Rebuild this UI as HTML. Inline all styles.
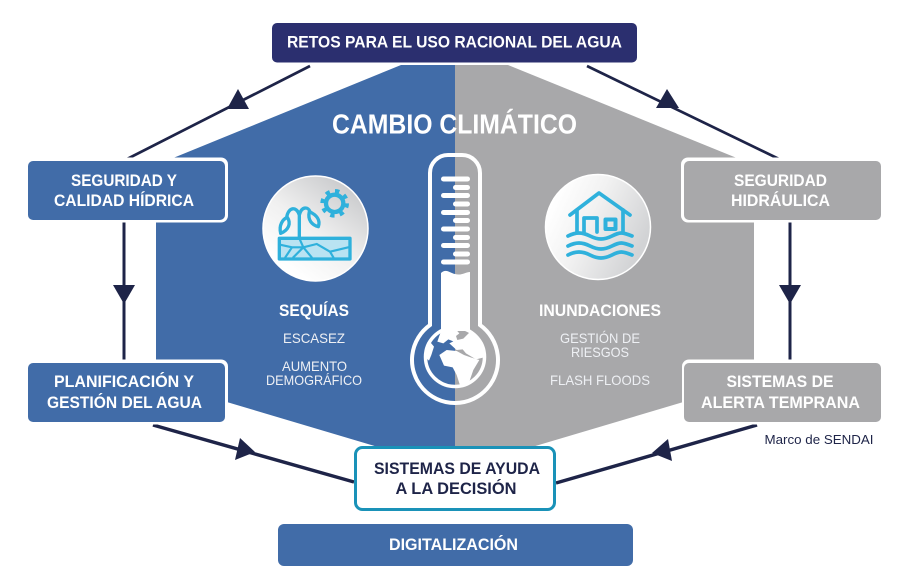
<!DOCTYPE html>
<html><head><meta charset="utf-8"><style>
html,body{margin:0;padding:0;background:#fff}
svg{display:block}
text{font-family:"Liberation Sans",sans-serif;text-anchor:middle}
.b{font-weight:bold;fill:#fff;font-size:17px}
.d{font-weight:bold;fill:#1e2448;font-size:17px}
.t{fill:#eef0f4;font-size:14px}
</style></head><body>
<svg width="909" height="572" viewBox="0 0 909 572" xmlns="http://www.w3.org/2000/svg">
<defs>
<linearGradient id="g1" x1="0.85" y1="0.1" x2="0.25" y2="0.9"><stop offset="0" stop-color="#c9cacc"/><stop offset="0.55" stop-color="#f0f0f0"/><stop offset="1" stop-color="#fff"/></linearGradient>
<linearGradient id="g2" x1="0.95" y1="0.6" x2="0.1" y2="0.2"><stop offset="0" stop-color="#d2d3d5"/><stop offset="0.6" stop-color="#f2f2f2"/><stop offset="1" stop-color="#fff"/></linearGradient>
</defs>
<polygon points="401,65 455,65 455,447 378,447 156,381 156,165" fill="#416ca8"/>
<polygon points="455,65 508,65 754,165 754,381 532,447 455,447" fill="#a8a8aa"/>

<g stroke="#1e2448" fill="none">
<line x1="310" y1="66" x2="127" y2="159" stroke-width="2.700"/>
<line x1="587" y1="66" x2="779" y2="159" stroke-width="2.700"/>
<line x1="124" y1="222" x2="124" y2="362" stroke-width="3"/>
<line x1="790" y1="222" x2="790" y2="362" stroke-width="3"/>
<line x1="153" y1="425" x2="354" y2="482" stroke-width="3.500"/>
<line x1="757" y1="425" x2="556" y2="483" stroke-width="3.500"/>
</g>
<g fill="#1e2448">
<polygon points="238,89 227,109 249,109"/>
<polygon points="667,89 656,108 679,108"/>
<polygon points="113,285 135,285 124,304"/>
<polygon points="779,285 801,285 790,304"/>
<polygon points="255,452 240,438 235,460"/>
<polygon points="652,453 668,439 672,461"/>
</g>

<rect x="272" y="23" width="365" height="39.500" rx="5" fill="#2b2f6f"/>
<text class="b" x="454.500" y="47.700" textLength="335" lengthAdjust="spacingAndGlyphs">RETOS PARA EL USO RACIONAL DEL AGUA</text>

<rect x="100" y="157.500" width="128" height="65" rx="7" fill="#fff"/>
<rect x="28" y="161" width="197" height="59" rx="5" fill="#416ca8"/>
<text class="b" x="124" y="186" textLength="106" lengthAdjust="spacingAndGlyphs">SEGURIDAD Y</text>
<text class="b" x="124" y="206" textLength="140" lengthAdjust="spacingAndGlyphs">CALIDAD HÍDRICA</text>

<rect x="100" y="359.500" width="128" height="65" rx="7" fill="#fff"/>
<rect x="28" y="363" width="197" height="59" rx="5" fill="#416ca8"/>
<text class="b" x="124" y="387" textLength="140" lengthAdjust="spacingAndGlyphs">PLANIFICACIÓN Y</text>
<text class="b" x="124.500" y="408" textLength="155" lengthAdjust="spacingAndGlyphs">GESTIÓN DEL AGUA</text>

<rect x="681" y="157.500" width="120" height="65" rx="7" fill="#fff"/>
<rect x="684" y="161" width="197" height="59" rx="5" fill="#a8a8aa"/>
<text class="b" x="780.500" y="186" textLength="93" lengthAdjust="spacingAndGlyphs">SEGURIDAD</text>
<text class="b" x="780.500" y="206" textLength="99" lengthAdjust="spacingAndGlyphs">HIDRÁULICA</text>

<rect x="682" y="359.500" width="120" height="65" rx="7" fill="#fff"/>
<rect x="684" y="363" width="197" height="59" rx="5" fill="#a8a8aa"/>
<text class="b" x="780" y="387" textLength="107" lengthAdjust="spacingAndGlyphs">SISTEMAS DE</text>
<text class="b" x="780.500" y="408" textLength="159" lengthAdjust="spacingAndGlyphs">ALERTA TEMPRANA</text>

<rect x="355.500" y="447.500" width="199" height="62" rx="7" fill="#fff" stroke="#1a92b8" stroke-width="3"/>
<text class="d" x="457" y="474" textLength="166" lengthAdjust="spacingAndGlyphs">SISTEMAS DE AYUDA</text>
<text class="d" x="456" y="494" textLength="121" lengthAdjust="spacingAndGlyphs">A LA DECISIÓN</text>

<rect x="278" y="524" width="355" height="42" rx="6" fill="#416ca8"/>
<text class="b" x="453.500" y="550" textLength="129" lengthAdjust="spacingAndGlyphs">DIGITALIZACIÓN</text>

<text x="819" y="444" font-size="13" fill="#1e2448" textLength="109" lengthAdjust="spacingAndGlyphs">Marco de SENDAI</text>

<text x="454.500" y="133.500" font-size="28" font-weight="bold" fill="#fff" textLength="245" lengthAdjust="spacingAndGlyphs">CAMBIO CLIMÁTICO</text>

<!-- left circle -->
<circle cx="315.500" cy="228.500" r="52.500" fill="url(#g1)" stroke="#fff" stroke-width="1.500"/>
<g transform="translate(250 170) scale(0.3333)" fill="none" stroke="#2fb1dc" stroke-linejoin="round" stroke-linecap="round">
<rect x="88" y="205" width="212" height="62" stroke-width="10" fill="#b9e3f2"/>
<path d="M90 224L126 232L106 262M148 205L160 232L130 262M126 232L160 232L185 262M160 232L200 222L240 245L295 232M240 245L250 262" stroke-width="6.500"/>
<path d="M148 205V135C140 108 115 110 110 142M148 135C155 108 175 110 180 125" stroke-width="10"/>
<path d="M92 190C86 165 98 148 112 142C124 160 116 180 92 190Z" stroke-width="10"/>
<path d="M205 170C186 165 172 150 178 125C200 135 212 150 205 170Z" stroke-width="10"/>
<circle cx="254" cy="100" r="26" stroke-width="13"/>
<circle cx="254" cy="100" r="37" stroke-width="12" stroke-linecap="butt" stroke-dasharray="13 16.060"/>
</g>

<!-- right circle -->
<circle cx="598" cy="227" r="52.500" fill="url(#g2)" stroke="#fff" stroke-width="1.500"/>
<g fill="none" stroke="#2fb1dc" stroke-width="3.700" stroke-linecap="round" stroke-linejoin="round">
<path d="M570 215L599 193L630 215"/>
<path d="M577 210V232M623 210V232"/>
<path d="M584 232V218H597V232"/>
<rect x="605.500" y="219.500" width="10" height="9.500" stroke-width="4" stroke-linecap="butt"/>
<path d="M568 236C576 232 582 232 590 236S604 240 612 236S622 232 632 236"/>
<path d="M568 246C576 242 582 242 590 246S604 250 612 246S622 242 632 246"/>
<path d="M568 255C576 251 582 251 590 255S604 259 612 255S622 251 632 255"/>
</g>

<text x="314" y="316" font-size="17" font-weight="bold" fill="#fff" textLength="70" lengthAdjust="spacingAndGlyphs">SEQUÍAS</text>
<text class="t" x="314" y="343" textLength="62" lengthAdjust="spacingAndGlyphs">ESCASEZ</text>
<text class="t" x="314.500" y="371" textLength="65" lengthAdjust="spacingAndGlyphs">AUMENTO</text>
<text class="t" x="314" y="385" textLength="96" lengthAdjust="spacingAndGlyphs">DEMOGRÁFICO</text>

<text x="600" y="316" font-size="17" font-weight="bold" fill="#fff" textLength="122" lengthAdjust="spacingAndGlyphs">INUNDACIONES</text>
<text class="t" x="600" y="343" textLength="80" lengthAdjust="spacingAndGlyphs">GESTIÓN DE</text>
<text class="t" x="600" y="357" textLength="58" lengthAdjust="spacingAndGlyphs">RIESGOS</text>
<text class="t" x="600" y="385" textLength="100" lengthAdjust="spacingAndGlyphs">FLASH FLOODS</text>

<!-- thermometer -->
<g fill="none" stroke="#fff">
<path d="M430 325V173A18 18 0 0 1 448 155H462A18 18 0 0 1 480 173V325A43 43 0 1 1 430 325Z" stroke-width="4"/>
<circle cx="455" cy="357" r="29.500" stroke-width="3.500"/>
</g>
<g fill="#fff">
<rect x="441" y="176.500" width="29" height="5" rx="2.500"/>
<rect x="453" y="185" width="17" height="5" rx="2.500"/>
<rect x="441" y="193" width="29" height="5" rx="2.500"/>
<rect x="453" y="201.500" width="17" height="5" rx="2.500"/>
<rect x="441" y="210" width="29" height="5" rx="2.500"/>
<rect x="453" y="218" width="17" height="5" rx="2.500"/>
<rect x="441" y="226.500" width="29" height="5" rx="2.500"/>
<rect x="453" y="235" width="17" height="5" rx="2.500"/>
<rect x="441" y="243" width="29" height="5" rx="2.500"/>
<rect x="453" y="251.500" width="17" height="5" rx="2.500"/>
<rect x="441" y="259.500" width="29" height="5" rx="2.500"/>
<path d="M441 273C446 268 450 273 455 274C461 276 466 272 470 272V331H441Z"/>
<g transform="translate(400 300) scale(0.3333)">
<path d="M125 88L165 85L178 100L168 108L172 120L190 116L208 98L232 112L250 150L252 172L228 178L198 160L188 148L170 150L148 130L160 124L145 118L130 130L112 125Z"/>
<path d="M118 165L140 150L170 153L192 165L212 172L238 180L220 210L208 245L180 256L170 225L158 202L132 197Z"/>
<path d="M92 128L102 140L94 165L87 182L76 172L78 148Z"/>
</g>
</g>
</svg>
</body></html>
